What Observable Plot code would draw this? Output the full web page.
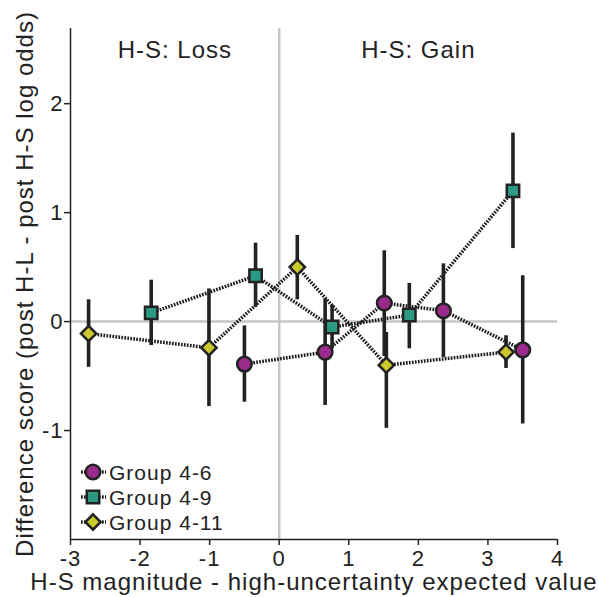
<!DOCTYPE html>
<html><head><meta charset="utf-8">
<script src="https://cdn.jsdelivr.net/npm/d3@7"></script>
<script src="https://cdn.jsdelivr.net/npm/@observablehq/plot@0.6"></script>
<style>
body{margin:0;background:#fff;}
svg text{letter-spacing:1px;}
</style></head><body><div id="chart"></div>
<script>
// ---- data ----
const groups = ["Group 4-6", "Group 4-9", "Group 4-11"];
const symbols = ["circle", "square", "diamond2"];
const fills = ["#9b2a8d", "#2a9a82", "#c9c92e"];

const x46 = [-0.5, 0.66, 1.51, 2.36, 3.5];
const y46 = [-0.39, -0.28, 0.17, 0.10, -0.26];
const lo46 = [-0.74, -0.77, -0.32, -0.33, -0.94];
const hi46 = [-0.04, 0.21, 0.65, 0.53, 0.42];

const x49 = [-1.84, -0.34, 0.76, 1.87, 3.36];
const y49 = [0.08, 0.42, -0.05, 0.06, 1.20];
const lo49 = [-0.22, 0.13, -0.25, -0.25, 0.67];
const hi49 = [0.38, 0.72, 0.15, 0.35, 1.73];

const x411 = [-2.74, -1.01, 0.26, 1.54, 3.26];
const y411 = [-0.11, -0.24, 0.50, -0.40, -0.28];
const lo411 = [-0.42, -0.78, 0.20, -0.98, -0.43];
const hi411 = [0.20, 0.30, 0.79, -0.10, -0.13];

const xTicks = [-3, -2, -1, 0, 1, 2, 3, 4];
const yTicks = [-1, 0, 1, 2];
const regionLabels = ["H-S: Loss", "H-S: Gain"];
const regionCenters = [-1.5, 2];
const xLabel = "H-S magnitude - high-uncertainty expected value";
const yLabel = "Difference score (post H-L - post H-S log odds)";

// ---- build table ----
const series = [[x46, y46, lo46, hi46], [x49, y49, lo49, hi49], [x411, y411, lo411, hi411]];
const rows = [];
series.forEach((s, g) => s[0].forEach((xv, i) => rows.push({group: groups[g], gi: g, x: xv, y: s[1][i], lo: s[2][i], hi: s[3][i]})));
const regions = regionLabels.map((t, i) => ({t, x: regionCenters[i]}));

const ink = "#222";
const lineInk = "#1a1a1a";
const dash = "1.7,1.3";
const radii = [7.3, 7.0, 6.9];
const xMin = xTicks[0], xMax = xTicks[xTicks.length - 1];
const yMin = -2, yMax = 2.69;

const marks = [
  // reference lines at zero
  Plot.ruleX([0], {stroke: "#c6c6c6", strokeWidth: 2.5}),
  Plot.ruleY([0], {x1: xMin, x2: xMax, stroke: "#c6c6c6", strokeWidth: 2.5}),
  // axis lines
  Plot.ruleX([xMin], {stroke: ink, strokeWidth: 1.5}),
  Plot.ruleY([yMin], {x1: xMin, x2: xMax, stroke: ink, strokeWidth: 1.5}),
  // tick marks (outward)
  Plot.ruleX(xTicks, {x: d => d, y1: yMin, y2: yMin, insetBottom: -6, stroke: ink, strokeWidth: 1.5}),
  Plot.ruleY(yTicks, {y: d => d, x1: xMin, x2: xMin, insetLeft: -6, stroke: ink, strokeWidth: 1.5}),
  // tick labels
  Plot.text(xTicks, {x: d => d, y: yMin, text: d => String(d), dy: 19, lineAnchor: "middle", fontSize: 22, fill: ink}),
  Plot.text(yTicks, {y: d => d, x: xMin, text: d => String(d), dx: -7, textAnchor: "end", lineAnchor: "middle", fontSize: 22, fill: ink}),
  // region labels and axis titles
  Plot.text(regions, {x: "x", text: "t", frameAnchor: "top", dy: 22, lineAnchor: "middle", fontSize: 24, fill: ink}),
  Plot.text([xLabel], {frameAnchor: "bottom", dy: 43, lineAnchor: "middle", textAnchor: "middle", fontSize: 24, fill: ink}),
  Plot.text([yLabel], {frameAnchor: "left", dx: -45, rotate: -90, lineAnchor: "middle", textAnchor: "middle", fontSize: 24, fill: ink}),
  // data
  Plot.line(rows, {x: "x", y: "y", z: "group", stroke: lineInk, strokeWidth: 3.5, strokeDasharray: dash, strokeLinecap: "butt", strokeLinejoin: "miter"}),
  Plot.ruleX(rows, {x: "x", y1: "lo", y2: "hi", stroke: ink, strokeWidth: 3.6}),
  ...groups.map((g, i) => Plot.dot(rows.filter(d => d.gi === i), {x: "x", y: "y", symbol: symbols[i], r: radii[i], fill: fills[i], stroke: ink, strokeWidth: 2.5}))
];

const plot = Plot.plot({
  width: 598, height: 597,
  marginLeft: 70, marginRight: 41, marginTop: 28, marginBottom: 58,
  x: {domain: [xMin, xMax], axis: null},
  y: {domain: [yMin, yMax], axis: null},
  style: {fontFamily: "'Liberation Sans', Arial, sans-serif", background: "#fff"},
  marks
});
document.getElementById("chart").append(plot);

const svg = d3.select(plot);

// ---- legend (layout inside the frame, bottom-left) ----
const lg = svg.append("g").attr("text-anchor", "start");
const symMap = {circle: d3.symbolCircle, square: d3.symbolSquare, diamond2: d3.symbolDiamond2};
groups.forEach((g, i) => {
  const cy = 472 + i * 25;
  lg.append("line").attr("x1", 81).attr("x2", 106).attr("y1", cy).attr("y2", cy)
    .attr("stroke", lineInk).attr("stroke-width", 3.5).attr("stroke-dasharray", dash);
  lg.append("path").attr("transform", `translate(93,${cy})`)
    .attr("d", d3.symbol(symMap[symbols[i]], Math.PI * radii[i] * radii[i])())
    .attr("fill", fills[i]).attr("stroke", ink).attr("stroke-width", 2.5);
  lg.append("text").attr("x", 109).attr("y", cy).attr("dy", "0.36em")
    .attr("text-anchor", "start")
    .attr("font-size", 21).attr("fill", ink)
    .attr("font-family", "'Liberation Sans', Arial, sans-serif").text(g);
});
</script>
</body></html>
